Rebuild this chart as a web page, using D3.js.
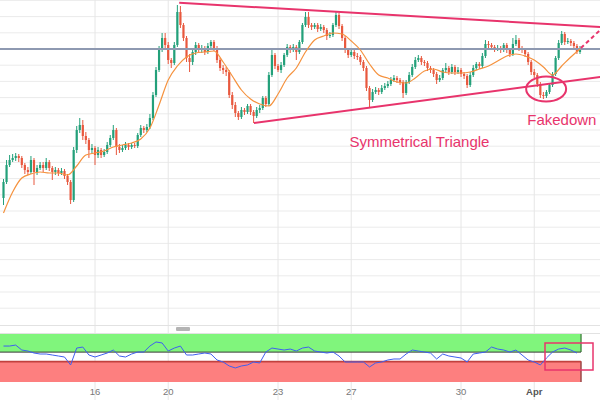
<!DOCTYPE html>
<html><head><meta charset="utf-8">
<script src="https://cdn.jsdelivr.net/npm/d3@7"></script>
<style>html,body{margin:0;padding:0;background:#fff;overflow:hidden}svg{display:block;font-family:"Liberation Sans",Arial,sans-serif}</style>
</head><body><svg id="c" width="600" height="400"></svg>
<script>
// ---- DATA (2-hour candles, price units arbitrary) ----
const firstOpen = 132;
const closes = [148,165,170,172,174,172,165,160,158,170,
158,162,165,162,168,162,158,160,157,159,
154,148,130,180,200,205,194,190,180,182,
175,180,175,178,185,192,200,183,180,182,
185,183,185,184,195,202,200,203,212,235,
260,280,292,285,270,267,285,318,305,292,
272,268,278,285,280,282,278,284,288,282,
270,262,260,258,235,225,217,213,220,218,
224,218,214,220,222,232,226,255,275,264,
260,265,275,283,280,283,278,288,305,313,
305,303,305,301,303,300,294,295,305,315,
304,292,280,275,278,274,273,268,262,242,
230,238,240,238,242,244,246,250,252,250,
248,237,248,255,263,270,272,268,267,262,
260,256,250,252,260,262,258,263,258,260,
256,254,245,255,262,266,264,274,286,285,
283,281,282,280,285,280,276,286,290,282,
280,276,268,258,255,246,235,234,238,245,
256,272,287,296,288,289,287,284,278,282];
const highs = [151,170,175,176,177,176,174,167,163,174,
172,165,168,168,172,170,164,163,162,162,
161,156,150,183,204,212,210,198,192,186,
184,183,182,181,188,195,205,202,186,185,
188,187,187,187,197,205,204,206,216,238,
263,284,297,297,288,272,288,325,324,307,
294,276,281,288,287,285,284,287,290,290,
284,272,265,263,260,238,228,219,223,222,
226,226,220,223,225,234,234,258,280,277,
266,268,277,286,285,286,285,290,307,318,
318,307,307,307,306,305,302,298,307,319,
317,306,294,282,281,280,277,275,270,264,
244,241,243,242,245,247,249,253,255,254,
252,250,250,258,266,273,275,274,270,269,
264,262,258,255,262,267,264,266,265,263,
262,258,256,258,265,268,268,277,290,289,
287,285,285,284,287,287,282,292,295,292,
284,282,278,270,261,257,248,238,240,247,
258,274,290,299,298,292,291,289,286,284];
const lows = [125,146,163,168,169,168,162,156,155,156,
145,155,160,158,160,159,150,155,154,155,
151,145,126,128,177,197,190,186,172,177,
165,172,172,173,176,183,190,175,177,178,
180,180,181,182,182,193,197,198,201,210,
233,258,278,280,266,262,265,283,302,289,
268,258,265,275,277,277,275,276,281,279,
267,259,256,254,232,221,213,210,211,215,
216,215,207,212,217,220,223,224,253,261,
258,257,263,273,277,278,270,276,286,303,
302,300,301,298,299,297,290,292,293,303,
301,289,277,272,273,271,270,265,259,239,
223,228,236,235,236,240,242,244,248,247,
245,232,235,246,253,261,268,265,264,259,
257,253,246,248,250,258,255,256,255,256,
253,251,242,243,253,260,261,262,272,282,
280,278,279,277,278,277,273,274,284,279,
277,273,265,255,252,243,232,231,232,236,
243,254,270,285,285,286,284,281,276,276];
// moving average, sampled every 3rd candle
const maStep = 3;
const maValues = [117,138,152,156,158,157,157,155,164,175,
177,179,183,185,187,191,202,225,250,264,
273,277,278,279,268,254,240,231,226,224,
236,252,262,278,290,294,297,296,289,280,
266,255,252,248,247,252,259,261,258,257,
257,258,261,264,269,274,276,274,270,263,
255,264,273,281];
// oscillator, sampled every 2nd candle
const rsiStep = 2;
const rsiValues = [56.7,56.7,57.8,52.3,51.2,49.0,47.9,47.9,46.8,45.7,
44.6,35.8,54.5,55.6,46.8,44.6,46.8,49.0,52.3,45.7,
44.6,47.9,50.1,50.1,56.7,61.2,60.1,51.2,54.5,56.7,
46.8,46.8,47.9,49.0,47.9,41.3,39.1,34.7,32.5,34.7,
35.8,39.1,38.0,50.1,54.5,53.4,52.3,53.4,51.2,54.5,
55.6,51.2,50.1,49.0,50.1,45.7,39.1,39.1,39.1,39.1,
33.6,38.0,39.1,41.3,42.4,42.4,47.9,52.3,51.2,50.1,
49.0,42.4,47.9,45.7,44.6,43.5,39.1,47.9,49.0,50.1,
55.6,53.4,52.3,50.1,52.3,46.8,41.3,39.1,35.8,43.5,
50.1,53.4,54.5,52.3,49.0];
const rsiUpperZone = [50, 70];
const rsiLowerZone = [17, 40];
const dayTickIndex = [30, 54, 90, 114, 150, 174];
const dayTickLabels = ["16", "20", "23", "27", "30", "Apr"];
const resistanceLevel = 281;
const upperTrend = [[57.6, 327.3], [195.6, 303]];
const lowerTrend = [[82.1, 207], [195.6, 253]];
const projection = [[189.3, 282], [195.6, 300]];
const fakedownPoint = [177.9, 241];
const labelTriangle = {text: "Symmetrical Triangle", at: [113.4, 183.5]};
const labelFakedown = {text: "Fakedown", at: [171.7, 205.5]};

// ---- CHART ----
const svg = d3.select("#c");
const pink = "#e8346c", up = "#23a07a", down = "#e8583e";
const x = d3.scaleLinear().domain([0, 189]).range([3.5, 580]);
const y = d3.scaleLinear().domain([5, 330]).range([325, 0]);
const yr = d3.scaleLinear().domain([17, 70]).range([382, 334]);

svg.append("rect").attr("width", 600).attr("height", 400).attr("fill", "#fff");
svg.append("defs").append("clipPath").attr("id", "main").append("rect")
  .attr("x", 0).attr("y", 0).attr("width", 600).attr("height", 325);

// grid
const gridStep = 16.2;
const gridLevels = d3.range(-16, 4).map(m => resistanceLevel + m * gridStep);
svg.append("g").selectAll("line").data(gridLevels).join("line")
  .attr("x1", 0).attr("x2", 600).attr("y1", d => y(d)).attr("y2", d => y(d))
  .attr("stroke", "#ebebeb").attr("stroke-width", 1);
svg.append("g").selectAll("line").data(dayTickIndex).join("line")
  .attr("x1", d => x(d)).attr("x2", d => x(d)).attr("y1", 0).attr("y2", 400)
  .attr("stroke", "#e6e6e6").attr("stroke-width", 1);

const main = svg.append("g").attr("clip-path", "url(#main)");
const candles = closes.map((c, i) => {
  const o = i ? closes[i - 1] : firstOpen;
  return {i, o, c, h: Math.max(highs[i], o, c), l: Math.min(lows[i], o, c)};
});
const cg = main.append("g");
cg.selectAll("line").data(candles).join("line")
  .attr("x1", d => x(d.i)).attr("x2", d => x(d.i))
  .attr("y1", d => y(d.h)).attr("y2", d => y(d.l))
  .attr("stroke", d => d.c >= d.o ? up : down).attr("stroke-width", 1);
cg.selectAll("rect").data(candles).join("rect")
  .attr("x", d => x(d.i) - 1.1).attr("width", 2.2)
  .attr("y", d => y(Math.max(d.o, d.c)))
  .attr("height", d => Math.max(1, Math.abs(y(d.o) - y(d.c))))
  .attr("fill", d => d.c >= d.o ? up : down);

// resistance line
main.append("line").attr("x1", 0).attr("x2", 600)
  .attr("y1", y(resistanceLevel)).attr("y2", y(resistanceLevel))
  .attr("stroke", "#8e99b1").attr("stroke-width", 2);

// moving average
main.append("path").datum(maValues)
  .attr("d", d3.line().x((d, k) => x(k * maStep)).y(d => y(d)).curve(d3.curveMonotoneX))
  .attr("fill", "none").attr("stroke", "#f5923e").attr("stroke-width", 1.2);

// annotations
const seg = d3.line().x(d => x(d[0])).y(d => y(d[1]));
[upperTrend, lowerTrend].forEach(t => main.append("path").attr("d", seg(t))
  .attr("stroke", pink).attr("stroke-width", 2).attr("fill", "none"));
main.append("path").attr("d", seg(projection)).attr("stroke", pink)
  .attr("stroke-width", 2).attr("stroke-dasharray", "4,3").attr("fill", "none");
main.append("ellipse").attr("cx", x(fakedownPoint[0])).attr("cy", y(fakedownPoint[1]))
  .attr("rx", 20).attr("ry", 12.5).attr("fill", "none").attr("stroke", pink).attr("stroke-width", 2);
[labelTriangle, labelFakedown].forEach(l => main.append("text")
  .attr("x", x(l.at[0])).attr("y", y(l.at[1])).attr("font-size", 15).attr("fill", pink).text(l.text));

// panel separators + scrollbar
svg.append("line").attr("x1", 0).attr("x2", 600).attr("y1", 325.5).attr("y2", 325.5).attr("stroke", "#e2e2e2");
svg.append("line").attr("x1", 0).attr("x2", 600).attr("y1", 333.5).attr("y2", 333.5).attr("stroke", "#e2e2e2");
svg.append("rect").attr("x", 176).attr("y", 327).attr("width", 14).attr("height", 4).attr("rx", 1).attr("fill", "#b4b4b4");

// oscillator panel
const bandRight = 581;
svg.append("rect").attr("x", 0).attr("width", bandRight)
  .attr("y", yr(rsiUpperZone[1])).attr("height", yr(rsiUpperZone[0]) - yr(rsiUpperZone[1]))
  .attr("fill", "#80f57c");
svg.append("rect").attr("x", 0).attr("width", bandRight)
  .attr("y", yr(rsiLowerZone[1])).attr("height", yr(rsiLowerZone[0]) - yr(rsiLowerZone[1]))
  .attr("fill", "#fd7f7f");
svg.append("line").attr("x1", bandRight).attr("x2", bandRight).attr("y1", yr(rsiUpperZone[1])).attr("y2", yr(rsiUpperZone[0]))
  .attr("stroke", "#4f8f4d").attr("stroke-width", 1.5);
svg.append("line").attr("x1", bandRight).attr("x2", bandRight).attr("y1", yr(rsiLowerZone[1])).attr("y2", yr(rsiLowerZone[0]))
  .attr("stroke", "#9b4848").attr("stroke-width", 1.5);
svg.append("line").attr("x1", 0).attr("x2", bandRight).attr("y1", yr(50)).attr("y2", yr(50))
  .attr("stroke", "#3a3a3a").attr("stroke-width", 1);
svg.append("line").attr("x1", 0).attr("x2", bandRight).attr("y1", yr(40) + 0.5).attr("y2", yr(40) + 0.5)
  .attr("stroke", "#c2413e").attr("stroke-width", 1.8);
svg.append("path").datum(rsiValues)
  .attr("d", d3.line().x((d, k) => x(k * rsiStep)).y(d => yr(d)))
  .attr("fill", "none").attr("stroke", "#3f5ff0").attr("stroke-width", 1);
svg.append("rect").attr("x", 545).attr("y", 343).attr("width", 48).attr("height", 27)
  .attr("fill", "none").attr("stroke", pink).attr("stroke-width", 1.5);

// x axis labels
svg.append("g").selectAll("text").data(dayTickIndex).join("text")
  .attr("x", d => x(d)).attr("y", 395).attr("text-anchor", "middle")
  .attr("font-size", 9.5)
  .attr("font-weight", (d, k) => dayTickLabels[k] === "Apr" ? "bold" : "normal")
  .attr("fill", (d, k) => dayTickLabels[k] === "Apr" ? "#555" : "#777")
  .text((d, k) => dayTickLabels[k]);
</script></body></html>
